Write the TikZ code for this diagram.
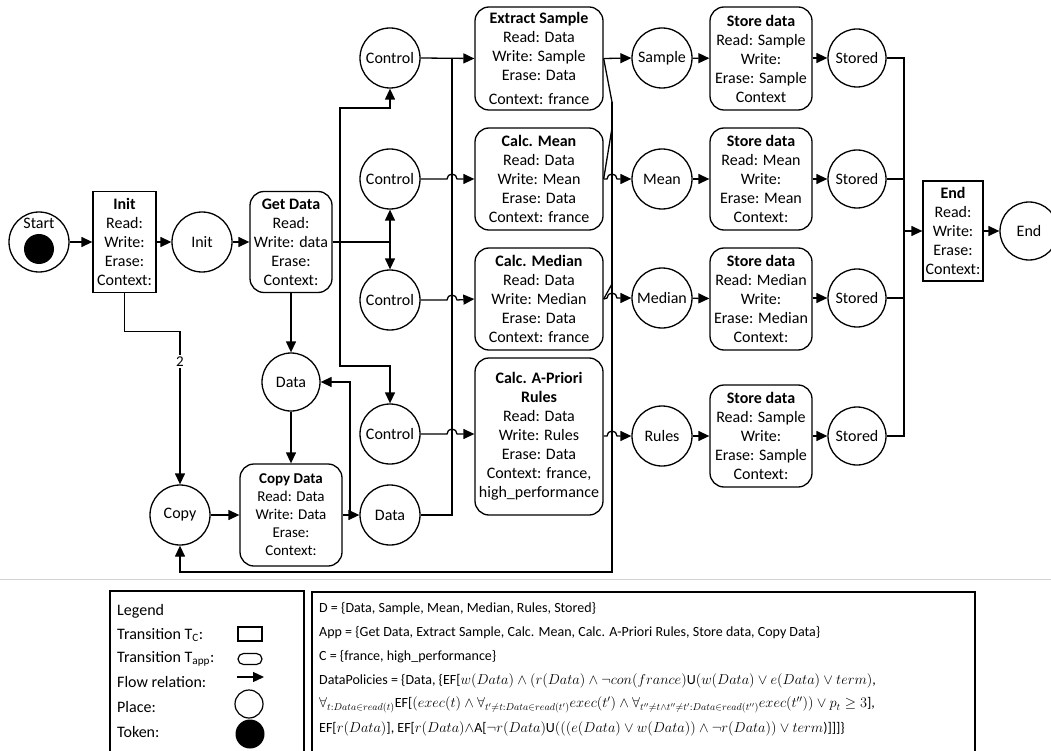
\documentclass[tikz,border=0pt]{standalone}
\usepackage{fontspec}
\setmainfont{Carlito}
\usetikzlibrary{arrows.meta}
\tikzset{
  lw/.style={line width=1.3pt},
  place/.style={draw, circle, line width=1.3pt, minimum size=60pt, inner sep=0pt, font=\fontsize{16}{19}\selectfont},
  tc/.style={draw, rectangle, line width=1.3pt, inner sep=0pt, align=center, font=\fontsize{16}{19}\selectfont},
  tapp/.style={tc, rounded corners=14pt},
  arr/.style={line width=1.3pt, -{Triangle[length=11pt,width=10pt]}},
  conn/.style={line width=1.3pt},
  txt/.style={anchor=west, inner sep=0pt, font=\fontsize{16}{19}\selectfont},
  ftxt/.style={anchor=west, inner sep=0pt, font=\fontsize{14}{17}\selectfont},
}
\begin{document}
\begin{tikzpicture}[x=1pt,y=-1pt]
\useasboundingbox (0,0) rectangle (1051,751);

% page rule
\draw[gray!35, line width=1pt] (0,579) -- (1051,579);

% ---------- left part ----------
\node[place] (start) at (39,242) {};
\node[font=\fontsize{16}{19}\selectfont, inner sep=0pt] (startlbl) at (39,223) {Start};
\node[circle, fill=black, minimum size=30pt, inner sep=0pt] (token) at (39,249) {};

\node[tc, minimum width=63, minimum height=101] (initT) at (124.5,242)
  {\textbf{Init}\\Read:\\Write:\\Erase:\\Context:};
\node[place] (initP) at (202,242) {Init};
\node[tapp, minimum width=82, minimum height=101] (getD) at (291,242)
  {\textbf{Get Data}\\Read:\\Write: data\\Erase:\\Context:};

\node[place, minimum size=58pt] (dataU) at (291,382) {Data};
\node[tapp, minimum width=102, minimum height=102, font=\fontsize{15}{18}\selectfont] (copyD) at (291,515)
  {\textbf{Copy Data}\\Read: Data\\Write: Data\\Erase:\\Context:};
\node[place] (copyP) at (180,515) {Copy};
\node[place] (dataL) at (390,515) {Data};

% control places
\node[place] (c1) at (390,58) {Control};
\node[place] (c2) at (390,179) {Control};
\node[place] (c3) at (390,300) {Control};
\node[place] (c4) at (390,434) {Control};

% app transitions
\node[tapp, minimum width=128, minimum height=103] (ext) at (539,58.5)
  {\textbf{Extract Sample}\\Read: Data\\Write: Sample\\Erase: Data\\[5pt]Context: france};
\node[tapp, minimum width=128, minimum height=102] (mean) at (539,179)
  {\textbf{Calc. Mean}\\Read: Data\\Write: Mean\\Erase: Data\\Context: france};
\node[tapp, minimum width=128, minimum height=102] (median) at (539,299)
  {\textbf{Calc. Median}\\Read: Data\\Write: Median\\Erase: Data\\Context: france};
\node[tapp, minimum width=128, minimum height=157] (apr) at (539,436.5)
  {\textbf{Calc. A-Priori}\\\textbf{Rules}\\Read: Data\\Write: Rules\\Erase: Data\\Context: france,\\high\_performance};

% output places
\node[place] (sampleP) at (662,58) {Sample};
\node[place] (meanP) at (662,179) {Mean};
\node[place] (medianP) at (662,298) {Median};
\node[place] (rulesP) at (662,436) {Rules};

% store transitions
\node[tapp, minimum width=102, minimum height=103] (st1) at (761,58.5)
  {\textbf{Store data}\\Read: Sample\\Write:\\Erase: Sample\\Context};
\node[tapp, minimum width=102, minimum height=102] (st2) at (761,179)
  {\textbf{Store data}\\Read: Mean\\Write:\\Erase: Mean\\Context:};
\node[tapp, minimum width=102, minimum height=102] (st3) at (761,299)
  {\textbf{Store data}\\Read: Median\\Write:\\Erase: Median\\Context:};
\node[tapp, minimum width=102, minimum height=102] (st4) at (761,436)
  {\textbf{Store data}\\Read: Sample\\Write:\\Erase: Sample\\Context:};

\node[place, minimum size=58pt] (sd1) at (857,58) {Stored};
\node[place, minimum size=58pt] (sd2) at (857,179) {Stored};
\node[place, minimum size=58pt] (sd3) at (857,298) {Stored};
\node[place, minimum size=58pt] (sd4) at (857,436) {Stored};

\node[tc, minimum width=60, minimum height=100] (endT) at (953,231)
  {\textbf{End}\\Read:\\Write:\\Erase:\\Context:};
\node[place, minimum size=58pt] (endP) at (1029,231) {End};

% ---------- connectors ----------
\draw[arr] (start) -- (initT);
\draw[arr] (initT) -- (initP);
\draw[arr] (initP) -- (getD);
\draw[arr] (initT.south) -- ++(0,38) -| node[pos=0.6, fill=white, inner sep=1.5pt, font=\fontsize{15}{17}\selectfont] {2} (copyP.north);
\draw[arr] (getD) -- (dataU);
\draw[arr] (dataU) -- (copyD);
\draw[arr] (copyP) -- (copyD);
\draw[arr] (copyD.east) -- (dataL.west);
\coordinate (cb) at (350,515);
\draw[arr] (cb) |- (dataU.east);

% Get Data fan-out
\coordinate (gj) at (390,242);
\coordinate (gb) at (340,242);
\coordinate (gu) at (340,108);
\coordinate (gd) at (340,366);
\draw[conn] (getD.east) -- (gj);
\draw[arr] (gj) -- (c2.south);
\draw[arr] (gj) -- (c3.north);
\draw[arr] (gb) -- (gu) -| (c1.south);
\draw[arr] (gb) -- (gd) -| (c4.north);

% control -> transitions (with hops at x=452)
\draw[arr] (c1.east) -- (ext.west);
\draw[arr] (c2.east) -- (447,179) arc[start angle=180,end angle=0,radius=5pt] -- (mean.west);
\draw[arr] (c3.east) -- (447,300) arc[start angle=180,end angle=0,radius=5pt] -- (median.west);
\draw[arr] (c4.east) -- (447,434) arc[start angle=180,end angle=0,radius=5pt] -- (apr.west |- 0,434);
\coordinate (vj) at (452,58);
\draw[conn] (dataL.east) -- (452,515) -- (vj);

% transition outputs
\coordinate (rt) at (612,102);
\coordinate (rb) at (612,572);
\draw[arr] (ext.east) -- (sampleP.west);
\draw[arr] (mean.east) -- (607,179) arc[start angle=180,end angle=0,radius=5pt] -- (meanP.west);
\draw[arr] (median.east) -- (607,298) arc[start angle=180,end angle=0,radius=5pt] -- (medianP.west);
\draw[arr] (apr.east |- 0,436) -- (607,436) arc[start angle=180,end angle=0,radius=5pt] -- (rulesP.west);
\draw[conn] (ext.east) -- (rt);
\draw[conn] (mean.east) -- (612,128);
\draw[conn] (median.east) -- (612,284);
\draw[arr] (rt) -- (rb) -| (copyP.south);

% store chain
\draw[arr] (sampleP) -- (st1);
\draw[arr] (meanP) -- (st2);
\draw[arr] (medianP) -- (st3);
\draw[arr] (rulesP) -- (st4);
\draw[arr] (st1.east |- sd1) -- (sd1);
\draw[arr] (st2.east |- sd2) -- (sd2);
\draw[arr] (st3.east |- sd3) -- (sd3);
\draw[arr] (st4.east |- sd4) -- (sd4);
\coordinate (m1) at (904,58);
\coordinate (m4) at (904,436);
\coordinate (mj) at (904,231);
\draw[conn] (sd1.east) -- (m1) -- (m4) -- (sd4.east);
\draw[conn] (sd2.east) -- (904,179);
\draw[conn] (sd3.east) -- (904,298);
\draw[arr] (mj) -- (endT.west);
\draw[arr] (endT) -- (endP);

% ---------- legend ----------
\draw[line width=1.2pt] (110,591) rectangle (304,770);
\node[txt] (lg0) at (117,611) {Legend};
\node[txt] (lg1) at (117,635) {Transition T\textsubscript{C}:};
\node[txt] (lg2) at (117,659) {Transition T\textsubscript{app}:};
\node[txt] (lg3) at (117,682) {Flow relation:};
\node[txt] (lg4) at (117,707) {Place:};
\node[txt] (lg5) at (117,732) {Token:};
\node[draw, line width=1.2pt, minimum width=24, minimum height=14, inner sep=0pt] (lgTc) at (250,634) {};
\node[draw, line width=1.2pt, rounded corners=5.5pt, minimum width=24, minimum height=11, inner sep=0pt] (lgTa) at (250,659) {};
\coordinate (la1) at (237,677);
\coordinate (la2) at (264,677);
\draw[arr] (la1) -- (la2);
\node[draw, circle, line width=1.2pt, minimum size=28pt, inner sep=0pt] (lgP) at (249,704) {};
\node[circle, fill=black, minimum size=29pt, inner sep=0pt] (lgK) at (250,734) {};

% ---------- formula box ----------
\draw[line width=1.2pt] (312,592) rectangle (975,770);
\node[ftxt] (f1) at (319,609) {D = \{Data, Sample, Mean, Median, Rules, Stored\}};
\node[ftxt] (f2) at (319,633) {App = \{Get Data, Extract Sample, Calc. Mean, Calc. A-Priori Rules, Store data, Copy Data\}};
\node[ftxt] (f3) at (319,657) {C = \{france, high\_performance\}};
\node[ftxt] (f4) at (319,681) {DataPolicies = \{Data, \{EF[$w(Data)\land(r(Data)\land\lnot con(france)$U$(w(Data)\lor e(Data)\lor term)$,};
\node[ftxt] (f5) at (319,705) {$\forall_{t:Data\in read(t)}$EF[$(exec(t)\land\forall_{t'\neq t:Data\in read(t')}exec(t')\land\forall_{t''\neq t\land t''\neq t':Data\in read(t'')}exec(t''))\lor p_t\geq 3$],};
\node[ftxt] (f6) at (319,729) {EF[$r(Data)$], EF[$r(Data)\land$A[$\lnot r(Data)$U$\Bigl(\bigl((e(Data)\lor w(Data)\bigr)\land\lnot r(Data)\Bigr)\lor term$)]]]\}};
\end{tikzpicture}
\end{document}
